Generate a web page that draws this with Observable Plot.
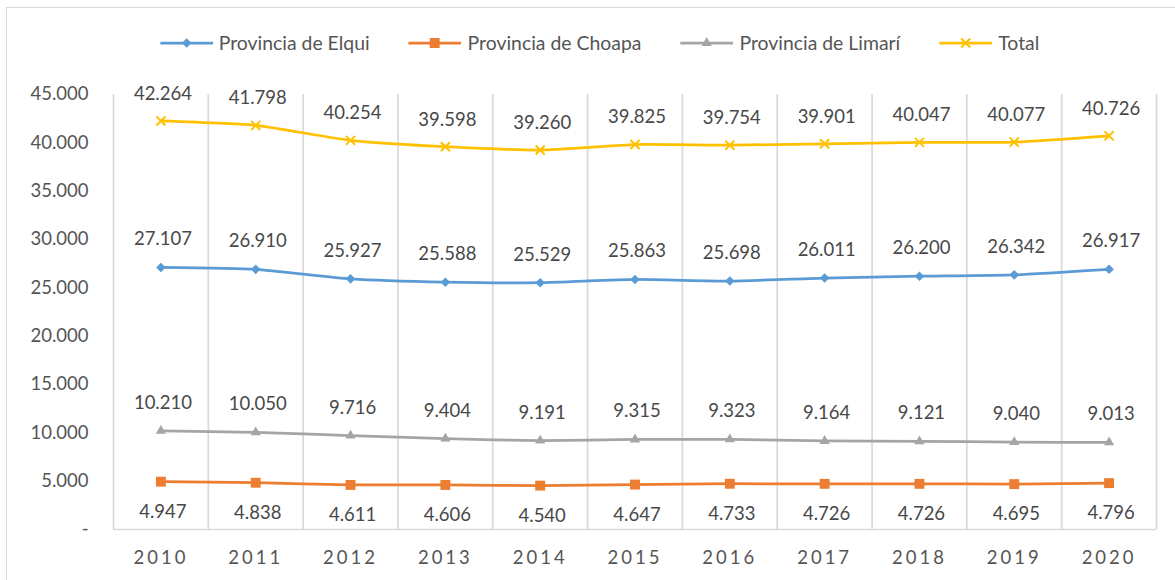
<!DOCTYPE html>
<html>
<head>
<meta charset="utf-8">
<script src="https://cdn.jsdelivr.net/npm/d3@7"></script>
<script src="https://cdn.jsdelivr.net/npm/@observablehq/plot@0.6"></script>
<style>
html,body{margin:0;padding:0;background:#fff;}
#wrap{position:relative;width:1175px;height:580px;overflow:hidden;font-family:Lato,sans-serif;}
#frame{position:absolute;left:6px;top:7px;width:1200px;height:620px;border:1.7px solid #d9d9d9;box-sizing:border-box;}
#legend{position:absolute;top:30px;left:599.5px;transform:translateX(-50%);display:flex;gap:39px;white-space:nowrap;align-items:center;height:25px;}
.item{display:flex;align-items:center;gap:6px;font-size:19.4px;color:#555555;line-height:25px;}
.item svg{display:block;}
#chart{position:absolute;left:0;top:78px;}
#chart g[aria-label^="x-axis"] text{letter-spacing:3px;}
</style>
</head>
<body>
<div id="wrap">
  <div id="frame"></div>
  <div id="legend"></div>
  <div id="chart"></div>
</div>
<script>
// ---- data ----
const years = [2010, 2011, 2012, 2013, 2014, 2015, 2016, 2017, 2018, 2019, 2020];
const elqui  = [27107, 26910, 25927, 25588, 25529, 25863, 25698, 26011, 26200, 26342, 26917];
const choapa = [4947, 4838, 4611, 4606, 4540, 4647, 4733, 4726, 4726, 4695, 4796];
const limari = [10210, 10050, 9716, 9404, 9191, 9315, 9323, 9164, 9121, 9040, 9013];
const total  = [42264, 41798, 40254, 39598, 39260, 39825, 39754, 39901, 40047, 40077, 40726];
const seriesNames = ["Provincia de Elqui", "Provincia de Choapa", "Provincia de Limarí", "Total"];
const yTicks = [0, 5000, 10000, 15000, 20000, 25000, 30000, 35000, 40000, 45000];

// ---- styles ----
const seriesValues = [elqui, choapa, limari, total];
const seriesColors = ["#5B9BD5", "#ED7D31", "#A5A5A5", "#FFC000"];
const seriesSymbols = ["diamond2", "square2", "triangle2", "times"];
const seriesR = [4.3, 6.3, 4.9, 4.2];
const labelDy = [-28, 30, -28, -27];

const loc = d3.formatLocale({decimal: ",", thousands: ".", grouping: [3], currency: ["", ""]});
const fmt = loc.format(",d");

const bounds = [...years.map(y => y - 0.5), years[years.length - 1] + 0.5];

const marks = [
  Plot.ruleX(bounds, {x: d => d, y1: yTicks[0], y2: yTicks[yTicks.length - 1], stroke: "#d9d9d9", strokeWidth: 1.7}),
  Plot.ruleY([yTicks[0]], {stroke: "#d9d9d9", strokeWidth: 1.7})
];

seriesNames.forEach((name, i) => {
  const rows = years.map((year, j) => ({name, year, value: seriesValues[i][j]}));
  marks.push(Plot.line(rows, {x: "year", y: "value", stroke: seriesColors[i], strokeWidth: 2.75, curve: "cardinal", tension: 0.5}));
  if (seriesSymbols[i] === "times") {
    marks.push(Plot.dot(rows, {x: "year", y: "value", symbol: seriesSymbols[i], r: seriesR[i], stroke: seriesColors[i], strokeWidth: 2, fill: "none"}));
  } else {
    marks.push(Plot.dot(rows, {x: "year", y: "value", symbol: seriesSymbols[i], r: seriesR[i], fill: seriesColors[i], stroke: "none"}));
  }
});
seriesNames.forEach((name, i) => {
  const rows = years.map((year, j) => ({name, year, value: seriesValues[i][j]}));
  marks.push(Plot.text(rows, {x: "year", y: "value", text: d => fmt(d.value), dy: labelDy[i], dx: 2, fontSize: 18.5, fill: "#484848"}));
});

const chart = Plot.plot({
  width: 1175,
  height: 502,
  marginLeft: 113,
  marginRight: 19,
  marginTop: 16,
  marginBottom: 51,
  style: {fontFamily: "Lato, sans-serif", fontSize: "18.5px", color: "#555555", background: "transparent", overflow: "visible"},
  x: {type: "linear", domain: [bounds[0], bounds[bounds.length - 1]], ticks: years, tickFormat: d => String(d), tickSize: 0, tickPadding: 21, label: null},
  y: {domain: [yTicks[0], yTicks[yTicks.length - 1]], ticks: yTicks, tickFormat: d => d === 0 ? "-" : fmt(d), tickSize: 0, tickPadding: 25, label: null},
  marks
});
document.getElementById("chart").appendChild(chart);

// ---- legend ----
const symbolMap = {diamond2: d3.symbolDiamond2, square2: d3.symbolSquare2, triangle2: d3.symbolTriangle2, times: d3.symbolTimes};
const legend = d3.select("#legend");
seriesNames.forEach((name, i) => {
  const item = legend.append("div").attr("class", "item");
  const svg = item.append("svg").attr("width", 53).attr("height", 16);
  svg.append("line").attr("x1", 0).attr("x2", 53).attr("y1", 8).attr("y2", 8)
    .attr("stroke", seriesColors[i]).attr("stroke-width", 2.75);
  const p = svg.append("path").attr("transform", "translate(26.5,8)")
    .attr("d", d3.symbol(symbolMap[seriesSymbols[i]], seriesR[i] * seriesR[i] * Math.PI)());
  if (seriesSymbols[i] === "times") p.attr("fill", "none").attr("stroke", seriesColors[i]).attr("stroke-width", 2);
  else p.attr("fill", seriesColors[i]);
  item.append("span").text(name);
});
</script>
</body>
</html>
